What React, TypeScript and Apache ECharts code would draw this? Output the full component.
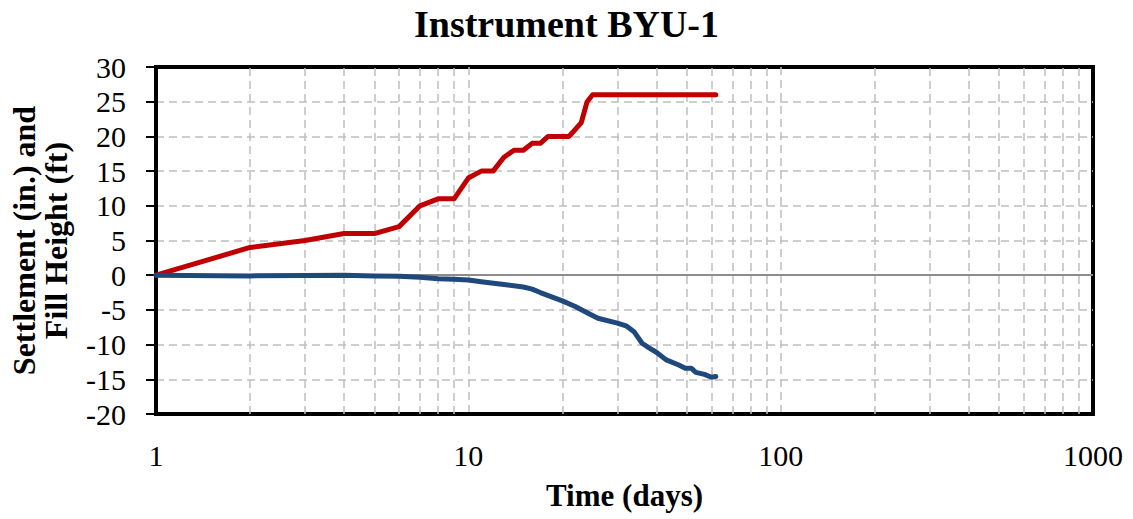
import React, { useEffect, useRef } from "react";
import * as echarts from "echarts";

const fillDays = [1, 2, 3, 4, 5, 6, 7, 8, 9, 10, 11, 12, 13, 14, 15, 16, 17, 18, 19, 20, 21, 22, 23, 24, 25, 62];
const fillHeight = [0, 4, 5, 6, 6, 7, 10, 11, 11, 14, 15, 15, 17, 18, 18, 19, 19, 20, 20, 20, 20, 21, 22, 25, 26, 26];

const settleDays = [1, 2, 3, 4, 5, 6, 7, 8, 9, 10, 11, 13, 15, 16, 17, 20, 22, 24, 26, 30, 32, 34, 36, 38, 40, 43, 47, 49.5, 51.7, 53.5, 57, 60, 62];
const settlement = [0, -0.1, -0.05, 0, -0.1, -0.15, -0.3, -0.5, -0.6, -0.7, -0.95, -1.35, -1.7, -2.0, -2.5, -3.7, -4.5, -5.4, -6.2, -6.9, -7.3, -8.2, -9.8, -10.5, -11.1, -12.2, -12.9, -13.4, -13.4, -14.0, -14.3, -14.7, -14.6];

const minorGridDays = [2, 3, 4, 5, 6, 7, 8, 9, 20, 30, 40, 50, 60, 70, 80, 90, 200, 300, 400, 500, 600, 700, 800, 900];

const FONT = "'Liberation Serif', 'Times New Roman', serif";
const GRID_COLOR = "#bfbfbf";

export default function App() {
  const ref = useRef<HTMLDivElement>(null);
  useEffect(() => {
    if (!ref.current) return;
    const chart = echarts.init(ref.current, null, { renderer: "svg" });
    const dashed = { color: GRID_COLOR, type: [8, 5], width: 1.5 };
    const option: any = {
      animation: false,
      backgroundColor: "#ffffff",
      title: {
        text: "Instrument BYU-1",
        left: "center",
        top: 5,
        padding: 0,
        textStyle: { fontFamily: FONT, fontWeight: "bold", fontSize: 38, color: "#000" },
      },
      grid: {
        left: 155,
        right: 40,
        top: 67,
        bottom: 105,
        show: true,
        borderColor: "#000",
        borderWidth: 4,
      },
      xAxis: {
        type: "log",
        logBase: 10,
        min: 1,
        max: 1000,
        name: "Time (days)",
        nameLocation: "middle",
        nameGap: 66,
        nameTextStyle: { fontFamily: FONT, fontWeight: "bold", fontSize: 31, color: "#000" },
        axisLine: { onZero: false, lineStyle: { color: "#000", width: 4 } },
        axisTick: { show: false },
        axisLabel: {
          fontFamily: FONT,
          fontSize: 30,
          color: "#000",
          margin: 26,
          formatter: (v: number) => String(Math.round(v)),
        },
        splitLine: { show: true, showMinLine: false, showMaxLine: false, lineStyle: dashed },
      },
      yAxis: {
        type: "value",
        min: -20,
        max: 30,
        interval: 5,
        name: "Settlement (in.) and\nFill Height (ft)",
        nameLocation: "middle",
        nameRotate: 90,
        nameGap: 84,
        nameTextStyle: { fontFamily: FONT, fontWeight: "bold", fontSize: 32, color: "#000", lineHeight: 32 },
        axisLine: { show: true, lineStyle: { color: "#000", width: 4 } },
        axisTick: { show: true, length: 10, lineStyle: { color: "#000", width: 2 } },
        axisLabel: { fontFamily: FONT, fontSize: 30, color: "#000", margin: 30 },
        splitLine: { show: true, showMinLine: false, showMaxLine: false, lineStyle: dashed },
      },
      series: [
        {
          name: "grid",
          type: "line",
          data: [],
          silent: true,
          z: 1,
          markLine: {
            silent: true,
            symbol: ["none", "none"],
            label: { show: false },
            animation: false,
            lineStyle: dashed,
            data: minorGridDays.map((d) => ({ xAxis: d })),
          },
        },
        {
          name: "zero",
          type: "line",
          data: [],
          silent: true,
          z: 2,
          markLine: {
            silent: true,
            symbol: ["none", "none"],
            label: { show: false },
            animation: false,
            lineStyle: { color: "#8c8c8c", type: "solid", width: 2 },
            data: [{ yAxis: 0 }],
          },
        },
        {
          name: "Fill Height",
          type: "line",
          z: 10,
          showSymbol: false,
          symbol: "none",
          lineStyle: { color: "#c00000", width: 5, cap: "round", join: "round" },
          data: fillDays.map((d, i) => [d, fillHeight[i]]),
        },
        {
          name: "Settlement",
          type: "line",
          z: 11,
          showSymbol: false,
          symbol: "none",
          lineStyle: { color: "#1f497d", width: 5, cap: "round", join: "round" },
          data: settleDays.map((d, i) => [d, settlement[i]]),
        },
      ],
    };
    chart.setOption(option);
    return () => chart.dispose();
  }, []);
  return (
    <div
      ref={ref}
      style={{ position: "fixed", left: 0, top: 0, width: 1133, height: 519, background: "#fff" }}
    />
  );
}
